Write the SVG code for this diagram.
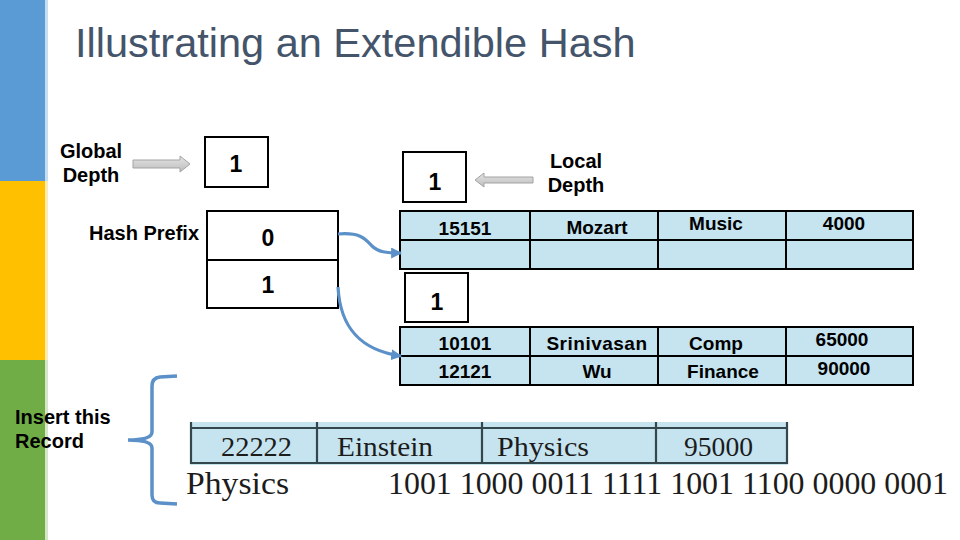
<svg xmlns="http://www.w3.org/2000/svg" width="960" height="540" viewBox="0 0 960 540">
<defs>
<style>
.lbl{font-family:"Liberation Sans",Arial,sans-serif;font-weight:bold;font-size:20px;fill:#000}
.num{font-family:"Liberation Sans",Arial,sans-serif;font-weight:bold;font-size:23px;fill:#000;text-anchor:middle}
.cell{font-family:"Liberation Sans",Arial,sans-serif;font-weight:bold;font-size:19px;fill:#000;text-anchor:middle}
.box{fill:#fff;stroke:#000;stroke-width:2}
.tbl{fill:#C5E4F0;stroke:#000;stroke-width:2}
.ser{font-family:"Liberation Serif","Times New Roman",serif;fill:#1c1c1c}
.rec{stroke:#34474d;stroke-width:2.2;fill:none}
.conn{fill:none;stroke:#5B91C8;stroke-width:3.2}
.garrow{fill:url(#gg);stroke:#A3A3A3;stroke-width:1}
</style>
<linearGradient id="gg" x1="0" y1="0" x2="0" y2="1">
<stop offset="0" stop-color="#E4E4E4"/><stop offset="1" stop-color="#BDBDBD"/>
</linearGradient>
<marker id="ah" viewBox="0 0 10 10" refX="9" refY="5" markerWidth="11" markerHeight="11" markerUnits="userSpaceOnUse" orient="auto">
<path d="M0,0 L10,5 L0,10 z" fill="#5B91C8"/>
</marker>
</defs>
<rect width="960" height="540" fill="#fff"/>
<g id="sidebar">
<rect x="0" y="0" width="45" height="181" fill="#5B9BD5"/>
<rect x="0" y="181" width="45" height="179" fill="#FFC000"/>
<rect x="0" y="360" width="45" height="180" fill="#70AD47"/>
<rect x="45" y="0" width="3" height="181" fill="#5B9BD5" opacity="0.35"/>
<rect x="45" y="181" width="3" height="179" fill="#FFC000" opacity="0.3"/>
<rect x="45" y="360" width="3" height="180" fill="#70AD47" opacity="0.3"/>
</g>
<g id="title">
<text x="75" y="57" font-family="Liberation Sans,Arial,sans-serif" font-size="41.5" fill="#44546A">Illustrating an Extendible Hash</text>
</g>
<g id="global-depth-label">
<text class="lbl" x="91" y="158" text-anchor="middle" font-size="19">Global</text>
<text class="lbl" x="91" y="182" text-anchor="middle" font-size="19">Depth</text>
</g>
<g id="global-depth">
<rect class="box" x="205" y="137" width="63" height="50"/>
<text class="num" x="236" y="172">1</text>
</g>
<g id="hash-prefix-label">
<text class="lbl" x="144" y="240" text-anchor="middle" font-size="19.5">Hash Prefix</text>
</g>
<g id="directory">
<rect class="box" x="207" y="211" width="131" height="49"/>
<rect class="box" x="207" y="260" width="131" height="48"/>
<text class="num" x="268" y="246" font-size="22">0</text>
<text class="num" x="268" y="293" font-size="22">1</text>
</g>
<g id="local-depth-label">
<text class="lbl" x="576" y="168" text-anchor="middle" font-size="19">Local</text>
<text class="lbl" x="576" y="192" text-anchor="middle" font-size="19">Depth</text>
</g>
<g id="local-depth-1">
<rect class="box" x="403" y="152" width="63" height="50"/>
<text class="num" x="435" y="190">1</text>
</g>
<g id="bucket-1">
<rect class="tbl" x="400" y="211" width="513" height="29"/>
<rect class="tbl" x="400" y="240" width="513" height="29"/>
<line x1="530" y1="211" x2="530" y2="269" stroke="#000" stroke-width="2"/>
<line x1="658" y1="211" x2="658" y2="269" stroke="#000" stroke-width="2"/>
<line x1="786" y1="211" x2="786" y2="269" stroke="#000" stroke-width="2"/>
<text class="cell" x="465" y="235">15151</text>
<text class="cell" x="597" y="234">Mozart</text>
<text class="cell" x="716" y="230">Music</text>
<text class="cell" x="844" y="230">4000</text>
</g>
<g id="local-depth-2">
<rect class="box" x="405" y="273" width="63" height="49"/>
<text class="num" x="437" y="310">1</text>
</g>
<g id="bucket-2">
<rect class="tbl" x="400" y="327" width="513" height="29"/>
<rect class="tbl" x="400" y="356" width="513" height="29"/>
<line x1="530" y1="327" x2="530" y2="385" stroke="#000" stroke-width="2"/>
<line x1="658" y1="327" x2="658" y2="385" stroke="#000" stroke-width="2"/>
<line x1="786" y1="327" x2="786" y2="385" stroke="#000" stroke-width="2"/>
<text class="cell" x="465" y="350">10101</text>
<text class="cell" x="465" y="378">12121</text>
<text class="cell" x="597" y="350" letter-spacing="0.5">Srinivasan</text>
<text class="cell" x="597" y="378">Wu</text>
<text class="cell" x="716" y="350">Comp</text>
<text class="cell" x="723" y="378">Finance</text>
<text class="cell" x="842" y="346">65000</text>
<text class="cell" x="844" y="375">90000</text>
</g>
<g id="insert-label">
<text class="lbl" x="15" y="424" font-size="19">Insert this</text>
<text class="lbl" x="15" y="448" font-size="19">Record</text>
</g>
<g id="brace">
<path d="M177,376 L160,377 Q152,378 152,386 L152,432 Q152,440 128,440 Q152,440 152,448 L152,495 Q152,503 160,503 L177,504" fill="none" stroke="#5B91C8" stroke-width="3.5"/>
</g>
<g id="record">
<rect x="190" y="422" width="598" height="43" fill="#C6E4EF"/>
<line class="rec" x1="190" y1="428" x2="788" y2="428"/>
<line class="rec" x1="190" y1="463" x2="788" y2="463"/>
<line class="rec" x1="191" y1="422" x2="191" y2="464"/>
<line class="rec" x1="317" y1="422" x2="317" y2="464"/>
<line class="rec" x1="482" y1="422" x2="482" y2="464"/>
<line class="rec" x1="656" y1="422" x2="656" y2="464"/>
<line class="rec" x1="787" y1="422" x2="787" y2="464"/>
<text class="ser" x="221" y="456" font-size="28" textLength="71" lengthAdjust="spacingAndGlyphs">22222</text>
<text class="ser" x="337" y="456" font-size="28" textLength="96" lengthAdjust="spacingAndGlyphs">Einstein</text>
<text class="ser" x="497" y="456" font-size="28" textLength="92" lengthAdjust="spacingAndGlyphs">Physics</text>
<text class="ser" x="684" y="456" font-size="28" textLength="69" lengthAdjust="spacingAndGlyphs">95000</text>
<text class="ser" x="186" y="494" font-size="32" textLength="103" lengthAdjust="spacingAndGlyphs">Physics</text>
<text class="ser" x="388" y="494" font-size="32" textLength="560" lengthAdjust="spacingAndGlyphs">1001 1000 0011 1111 1001 1100 0000 0001</text>
</g>
<g id="connectors">
<polygon class="garrow" points="133,160 180,160 180,156 190,164 180,172 180,168 133,168"/>
<polygon class="garrow" points="475,180 484,173 484,177 533,177 533,183 484,183 484,187"/>
<path class="conn" d="M338,234 C362,232 366,240 372,246 S386,253 401,253" marker-end="url(#ah)"/>
<path class="conn" d="M338,287 C340,325 358,350 401,356" marker-end="url(#ah)"/>
</g>
</svg>
